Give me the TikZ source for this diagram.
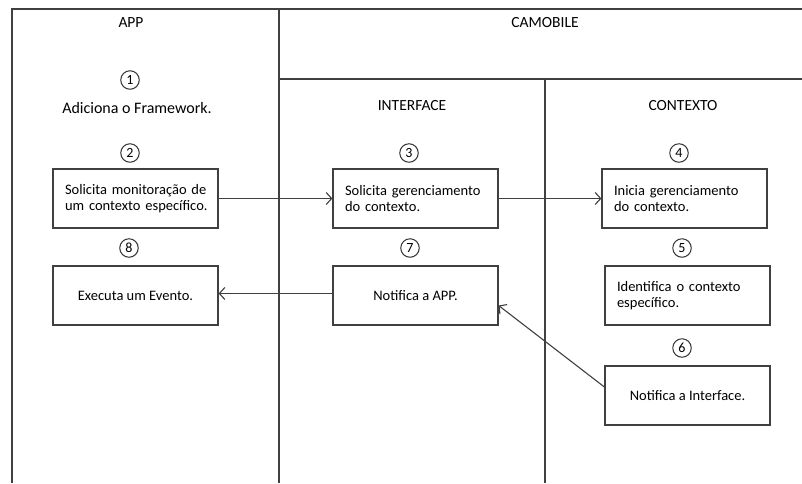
\documentclass[tikz,border=0pt]{standalone}
\usepackage{fontspec}
\setmainfont{Carlito}
\usetikzlibrary{arrows.meta,calc}
\begin{document}
\begin{tikzpicture}[x=1pt,y=-1pt,
  frame/.style={draw=black!75,line width=1.2pt},
  stepbox/.style={draw=black!75,line width=1.2pt,minimum width=165pt,minimum height=59pt,
    inner sep=0pt,font=\fontsize{14.5}{16}\selectfont},
  twoline/.style={text width=141pt,align=left},
  num/.style={draw=black!80,line width=1pt,circle,inner sep=0pt,minimum size=18.5pt,
    font=\fontsize{14}{14}\selectfont},
  title/.style={font=\fontsize{15.5}{16}\selectfont},
  flow/.style={draw=black!75,line width=1.1pt,-{Straight Barb[length=5.5pt,width=12pt,line width=1.1pt]}}]
\useasboundingbox (0,0) rectangle (802,483);
\fill[white] (0,0) rectangle (802,483);

% swimlane frame
\draw[frame] (12,483) -- (12,9) -- (802,9);
\draw[frame] (279,9) -- (279,483);
\draw[frame] (279,79) -- (802,79);
\draw[frame] (545,79) -- (545,483);

% lane titles
\node[title] (tapp) at (131,23) {APP};
\node[title] (tcam) at (545,23) {CAMOBILE};
\node[title] (tint) at (412,106) {INTERFACE};
\node[title] (tctx) at (683,106) {CONTEXTO};

% step numbers
\node[num] (n1) at (130,80) {1};
\node[font=\fontsize{16}{17}\selectfont] (add) at (137,108) {Adiciona o Framework.};
\node[num] (n2) at (130,153) {2};
\node[num] (n3) at (409,153) {3};
\node[num] (n4) at (679,153) {4};
\node[num] (n8) at (129,248) {8};
\node[num] (n7) at (410,248) {7};
\node[num] (n5) at (682,248) {5};
\node[num] (n6) at (682,348) {6};

% steps
\node[stepbox,twoline] (b2) at (135.5,198.5) {\mbox{Solicita monitoração de}\\ \mbox{um contexto específico.}};
\node[stepbox,twoline] (b3) at (415.5,198.5) {\mbox{Solicita gerenciamento}\\ \mbox{do contexto.}};
\node[stepbox,twoline] (b4) at (684.5,198.5) {\mbox{Inicia gerenciamento}\\ \mbox{do contexto.}};
\node[stepbox] (b8) at (135.5,295.5) {Executa um Evento.};
\node[stepbox] (b7) at (415.5,295.5) {Notifica a APP.};
\node[stepbox,twoline] (b5) at (687.5,295.5) {\mbox{Identifica o contexto}\\ \mbox{específico.}};
\node[stepbox] (b6) at (687.5,395.5) {Notifica a Interface.};

% message flow
\draw[flow] (b2.east) -- (b3.west);
\draw[flow] (b3.east) -- (b4.west);
\draw[flow] ($(b7.west)+(0,-2)$) -- ($(b8.east)+(0,-2)$);
\draw[flow] ($(b6.west)+(0,-8.5)$) -- ($(b7.east)+(0,10)$);
\end{tikzpicture}
\end{document}
